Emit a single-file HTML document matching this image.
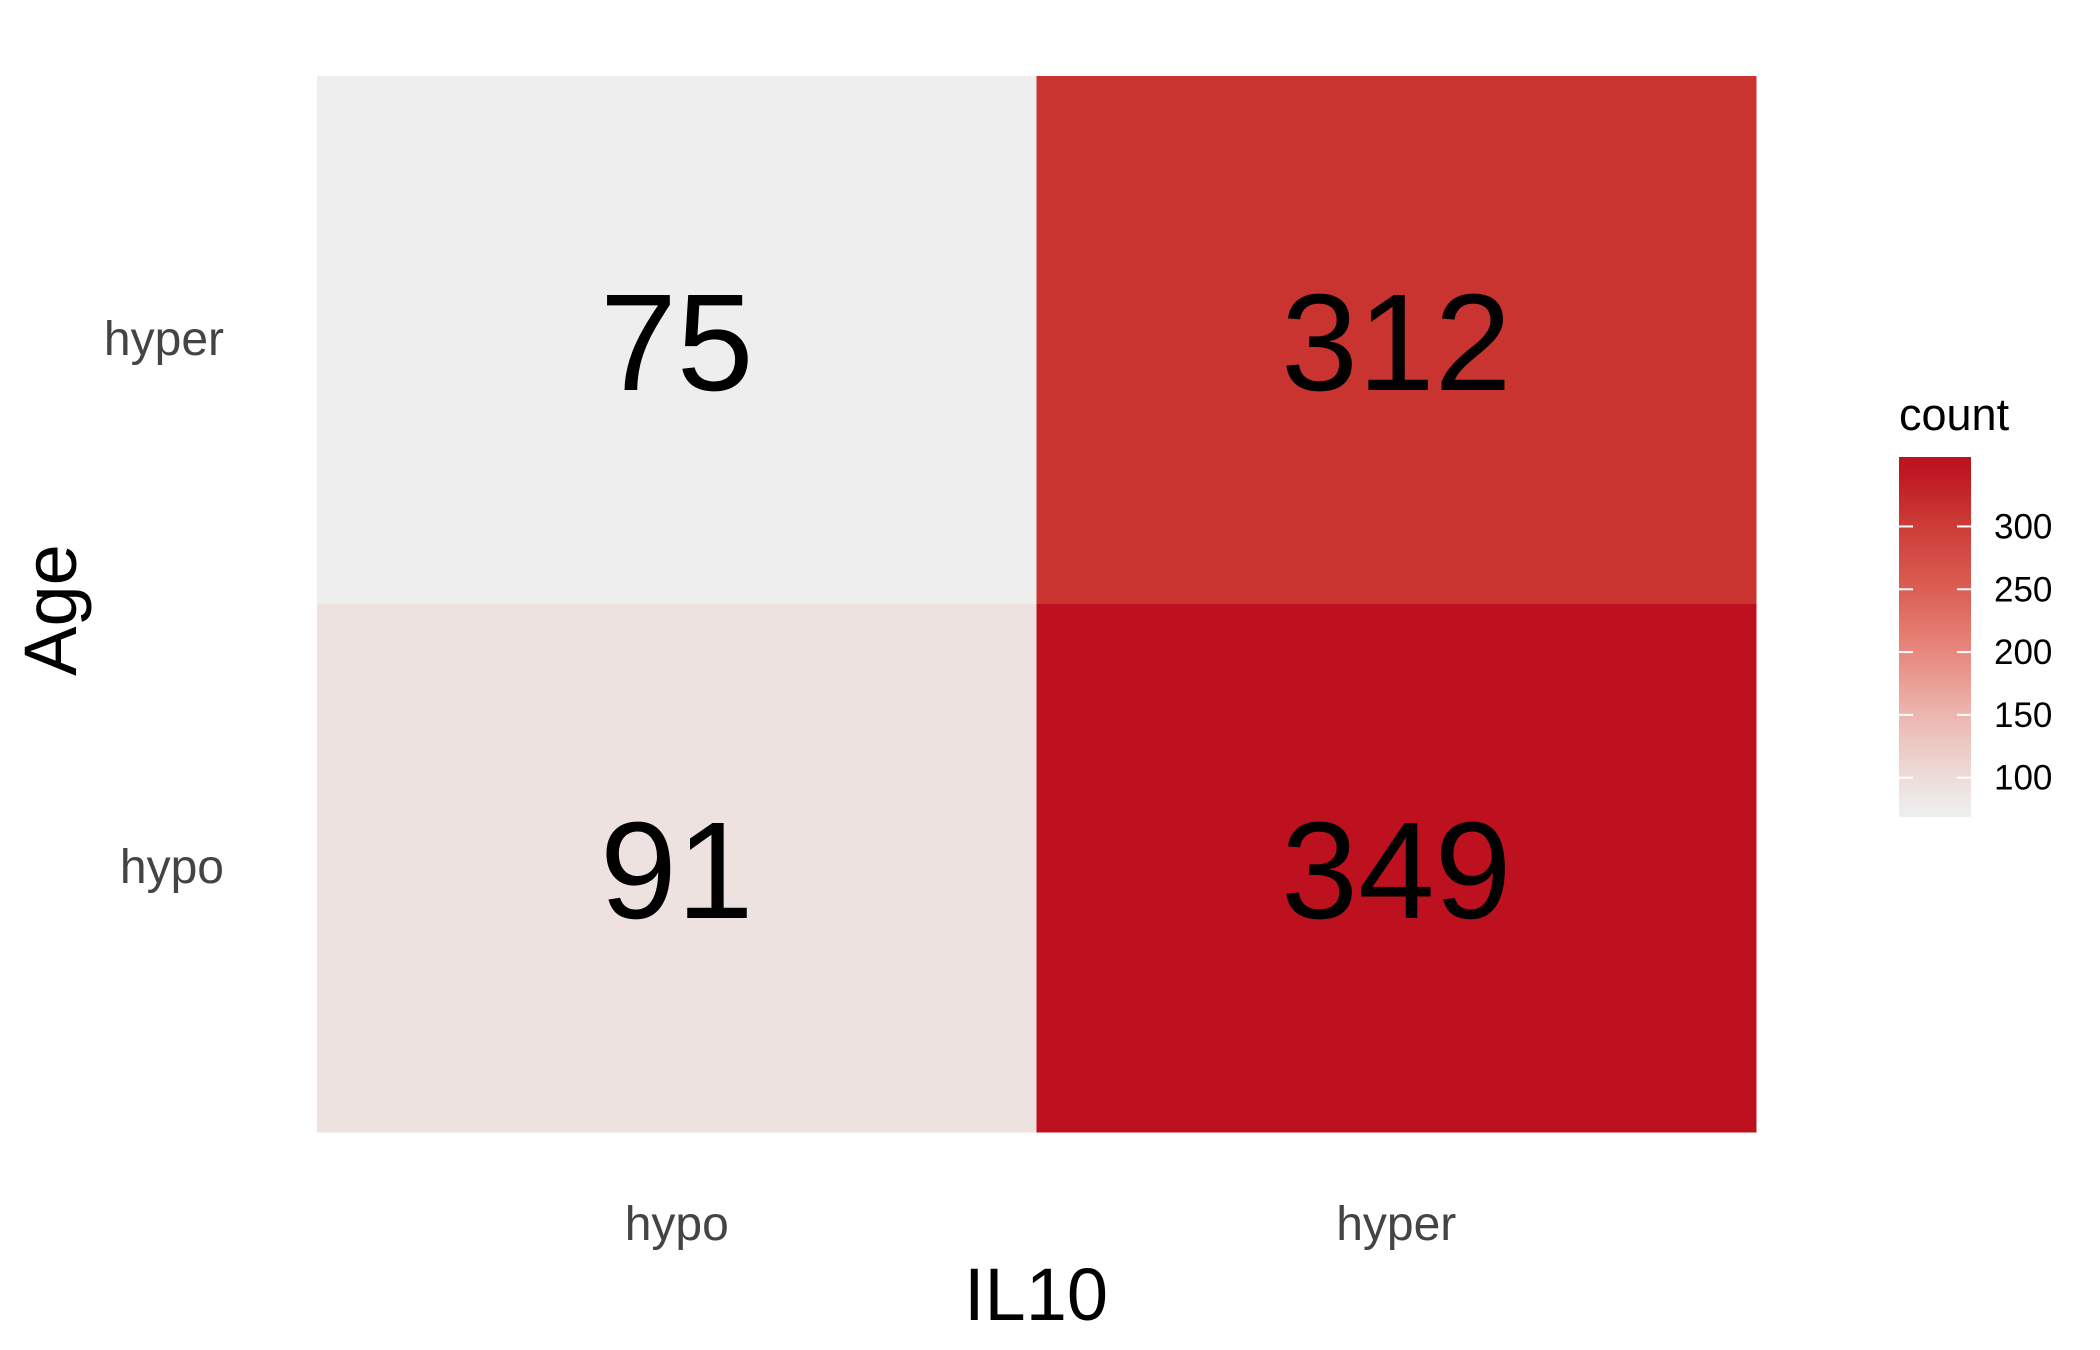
<!DOCTYPE html>
<html><head><meta charset="utf-8"><style>
html,body{margin:0;padding:0;background:#fff;}
svg{display:block;font-family:"Liberation Sans",Arial,sans-serif;}
</style></head><body>
<svg id="chart" width="2100" height="1350" viewBox="0 0 2100 1350">
<defs><linearGradient id="legendGrad" x1="0" y1="1" x2="0" y2="0"></linearGradient></defs>
<g id="cells"></g>
<g id="labels"></g>
<g id="xaxis"></g>
<g id="yaxis"></g>
<text x="1036" y="1320" text-anchor="middle" font-size="74" fill="#000">IL10</text>
<text transform="translate(76,610) rotate(-90)" text-anchor="middle" font-size="74" fill="#000">Age</text>
<g id="legend">
<text x="1899" y="430" font-size="45" fill="#000">count</text>
</g>
</svg>
<script>
const xCategories = ["hypo", "hyper"];
const yCategories = ["hyper", "hypo"]; // top to bottom
const cellX = ["hypo", "hyper", "hypo", "hyper"];
const cellY = ["hyper", "hyper", "hypo", "hypo"];
const cellValues = [75, 312, 91, 349];
const legendTicks = [100, 150, 200, 250, 300];

const NS = "http://www.w3.org/2000/svg";
const plot = {left: 317, right: 1756, top: 76, bottom: 1132};
const cw = (plot.right - plot.left) / xCategories.length;
const ch = (plot.bottom - plot.top) / yCategories.length;
function xPos(c){ return plot.left + xCategories.indexOf(c) * cw; }
function yPos(c){ return plot.top + yCategories.indexOf(c) * ch; }
const vmin = Math.min(...cellValues), vmax = Math.max(...cellValues);
const stops = [[0,[238,238,238]],[0.27,[236,184,176]],[0.45,[232,137,127]],[0.64,[219,94,83]],[0.86,[201,53,50]],[1,[189,17,31]]];
function color(v){
  let t = (v - vmin) / (vmax - vmin); t = Math.max(0, Math.min(1, t));
  for (let i = 1; i < stops.length; i++) {
    if (t <= stops[i][0]) {
      const a = stops[i-1], b = stops[i], f = (t - a[0]) / (b[0] - a[0]);
      const c = a[1].map((x, k) => Math.round(x + (b[1][k] - x) * f));
      return "rgb(" + c.join(",") + ")";
    }
  }
  return "rgb(189,17,31)";
}
function mk(tag, attrs, parent){
  const e = document.createElementNS(NS, tag);
  for (const k in attrs) e.setAttribute(k, attrs[k]);
  parent.appendChild(e); return e;
}
const cells = document.getElementById("cells"), labels = document.getElementById("labels");
cellValues.forEach((v, i) => {
  const x = xPos(cellX[i]), y = yPos(cellY[i]);
  const r = mk("rect", {x: x, y: y, width: cw + 0.5, height: ch + 0.5, fill: color(v)}, cells);
  
  
  const t = mk("text", {x: x + cw / 2, y: y + ch / 2 + 50, "text-anchor": "middle", "font-size": 138, fill: "#000"}, labels);
  t.textContent = v;
  
  
});
const xa = document.getElementById("xaxis");
xCategories.forEach(c => {
  const t = mk("text", {x: xPos(c) + cw / 2, y: 1240, "text-anchor": "middle", "font-size": 48, fill: "#444"}, xa);
  t.textContent = c;
  
  
});
const ya = document.getElementById("yaxis");
yCategories.forEach(c => {
  const t = mk("text", {x: 224, y: yPos(c) + ch / 2 + 15, "text-anchor": "end", "font-size": 48, fill: "#444"}, ya);
  t.textContent = c;
  
  
});
// legend
const lg = document.getElementById("legend");
const bar = {x: 1899, w: 72, top: 457, bottom: 817};
const expand = 0.023 * (vmax - vmin);
const lmin = vmin - expand, lmax = vmax + expand;
function ly(v){ return bar.bottom - (v - lmin) / (lmax - lmin) * (bar.bottom - bar.top); }
const grad = document.getElementById("legendGrad");
for (let i = 0; i <= 20; i++) {
  mk("stop", {offset: (i / 20), "stop-color": color(lmin + (lmax - lmin) * i / 20)}, grad);
}
const lb = mk("rect", {x: bar.x, y: bar.top, width: bar.w, height: bar.bottom - bar.top, fill: "url(#legendGrad)"}, lg);


legendTicks.forEach(v => {
  const y = ly(v);
  const t1 = mk("line", {x1: bar.x, x2: bar.x + 14, y1: y, y2: y, stroke: "#fff", "stroke-width": 2}, lg);
  
  
  const t2 = mk("line", {x1: bar.x + bar.w - 14, x2: bar.x + bar.w, y1: y, y2: y, stroke: "#fff", "stroke-width": 2}, lg);
  
  
  const t = mk("text", {x: 1994, y: y + 12, "font-size": 35, fill: "#000"}, lg);
  t.textContent = v;
  
  
});
</script>
</body></html>
